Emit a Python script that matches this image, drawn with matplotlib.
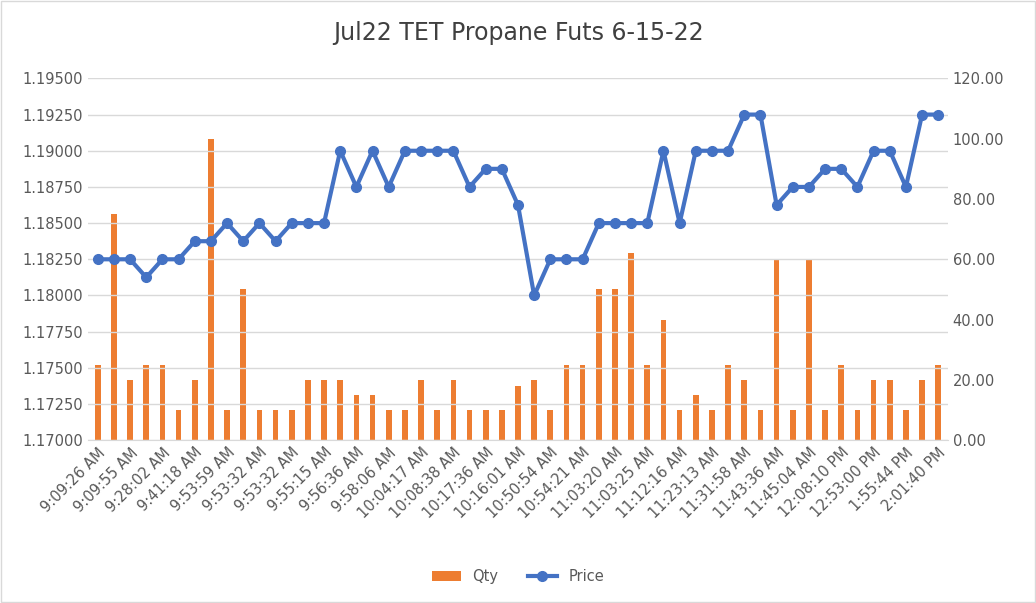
import numpy as np
import matplotlib.pyplot as plt

price = [1.1825, 1.1825, 1.1825, 1.18125, 1.1825, 1.1825, 1.18375, 1.18375, 1.185, 1.18375,
         1.185, 1.18375, 1.185, 1.185, 1.185, 1.19, 1.1875, 1.19, 1.1875, 1.19,
         1.19, 1.19, 1.19, 1.1875, 1.18875, 1.18875, 1.18625, 1.18, 1.1825, 1.1825,
         1.1825, 1.185, 1.185, 1.185, 1.185, 1.19, 1.185, 1.19, 1.19, 1.19,
         1.1925, 1.1925, 1.18625, 1.1875, 1.1875, 1.18875, 1.18875, 1.1875, 1.19, 1.19,
         1.1875, 1.1925, 1.1925]
qty = [25, 75, 20, 25, 25, 10, 20, 100, 10, 50,
       10, 10, 10, 20, 20, 20, 15, 15, 10, 10,
       20, 10, 20, 10, 10, 10, 18, 20, 10, 25,
       25, 50, 50, 62, 25, 40, 10, 15, 10, 25,
       20, 10, 60, 10, 60, 10, 25, 10, 20, 20,
       10, 20, 25]
tick_labels = ["9:09:26 AM", "9:09:55 AM", "9:28:02 AM", "9:41:18 AM", "9:53:59 AM", "9:53:32 AM",
               "9:53:32 AM", "9:55:15 AM", "9:56:36 AM", "9:58:06 AM", "10:04:17 AM", "10:08:38 AM",
               "10:17:36 AM", "10:16:01 AM", "10:50:54 AM", "10:54:21 AM", "11:03:20 AM", "11:03:25 AM",
               "11:12:16 AM", "11:23:13 AM", "11:31:58 AM", "11:43:36 AM", "11:45:04 AM", "12:08:10 PM",
               "12:53:00 PM", "1:55:44 PM", "2:01:40 PM"]

x = np.arange(len(price))
fig, ax = plt.subplots(figsize=(10.36, 6.03), dpi=100)
fig.subplots_adjust(left=0.085, right=0.915, top=0.87, bottom=0.27)
ax2 = ax.twinx()

ax2.bar(x, qty, width=0.35, color='#ED7D31', label='Qty', zorder=1)
ax.plot(x, price, color='#4472C4', lw=3, marker='o', ms=7, label='Price', zorder=3)
ax.set_zorder(ax2.get_zorder() + 1)
ax.patch.set_visible(False)

ax.set_ylim(1.17, 1.195)
ax.set_yticks(np.arange(1.17, 1.19501, 0.0025))
ax.set_yticklabels([f"{v:.5f}" for v in np.arange(1.17, 1.19501, 0.0025)])
ax2.set_ylim(0, 120)
ax2.set_yticks(range(0, 121, 20))
ax2.set_yticklabels([f"{v:.2f}" for v in range(0, 121, 20)])
ax.set_xlim(-0.6, len(price) - 0.4)
ax.set_xticks(x[::2])
ax.set_xticklabels(tick_labels, rotation=45, ha='right', rotation_mode='anchor')
ax.grid(axis='y', color='#D9D9D9', lw=1)
for a in (ax, ax2):
    for s in a.spines.values():
        s.set_visible(False)
    a.tick_params(length=0, labelsize=10.5, colors='#595959')
ax.spines['bottom'].set_visible(True)
ax.spines['bottom'].set_color('#D9D9D9')

fig.suptitle('Jul22 TET Propane Futs 6-15-22', fontsize=17, color='#404040', y=0.965)
h1, l1 = ax2.get_legend_handles_labels()
h2, l2 = ax.get_legend_handles_labels()
fig.legend(h1 + h2, l1 + l2, loc='lower center', ncol=2, frameon=False, fontsize=10.5,
           bbox_to_anchor=(0.5, 0.01), labelcolor='#595959')
fig.patches.append(plt.Rectangle((0.001, 0.001), 0.998, 0.998, transform=fig.transFigure,
                                 fill=False, edgecolor='#D9D9D9', lw=1))
fig.savefig('out.png')
